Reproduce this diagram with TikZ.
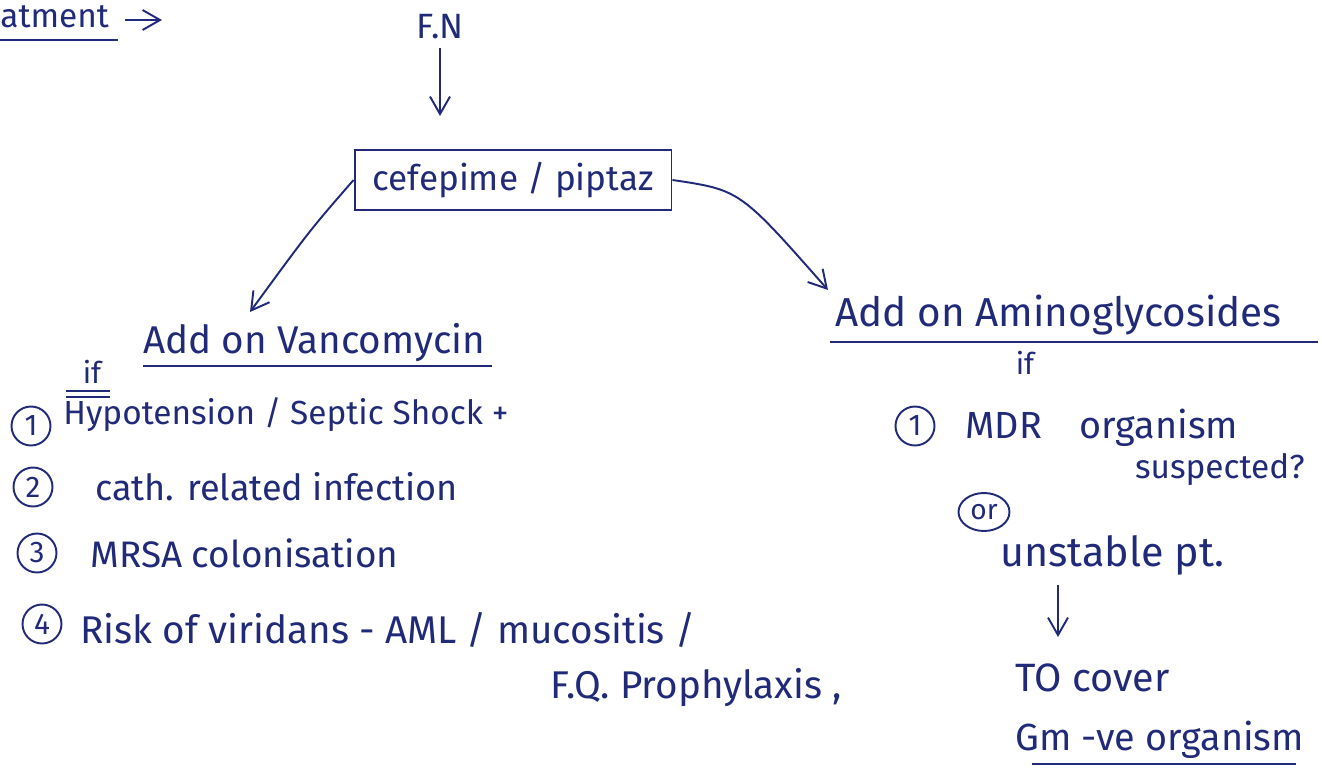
\documentclass[tikz,border=0pt]{standalone}
\usepackage{fontspec}
\setmainfont{Fira Sans}
\usetikzlibrary{arrows.meta,shapes.geometric}
\definecolor{ink}{RGB}{32,42,120}
\newcommand{\fs}[1]{\fontsize{#1}{#1}\selectfont}
\begin{document}
\begin{tikzpicture}[x=0.02cm,y=-0.02cm,
  ink/.style={draw=ink,line width=1.1pt},
  txt/.style={text=ink,inner sep=0pt,font=\fs{18}},
  conn/.style={ink,-{Straight Barb[length=3.5mm,width=4mm]}},
  num/.style={draw=ink,line width=1.1pt,circle,text=ink,inner sep=0pt,minimum size=0.78cm,font=\fs{17}}]
\useasboundingbox (0,0) rectangle (1322,771);
% top left
\node[txt,anchor=west,font=\fs{19}] (treat) at (0,17) {atment};
\coordinate (tu1) at (0,40); \coordinate (tu2) at (118,40);
\draw[ink] (tu1) -- (tu2);
\coordinate (ta1) at (125,20); \coordinate (ta2) at (162,20);
\draw[conn] (ta1) -- (ta2);
% F.N
\node[txt,font=\fs{20}] (fn) at (440,27) {F.N};
\node[draw=ink,line width=1.1pt,text=ink,font=\fs{20},minimum width=6.34cm,minimum height=1.2cm] (box) at (513,180) {cefepime / piptaz};
\coordinate (fnend) at (440,116);
\draw[conn] (fn.south) ++(0,8) -- (fnend);
% left branch
\node[txt,anchor=west,font=\fs{22}] (vanc) at (143,343) {Add on Vancomycin};
\coordinate (vu1) at (143,366); \coordinate (vu2) at (492,366);
\draw[ink] (vu1) -- (vu2);
\coordinate (vend) at (250,312);
\draw[conn] (box.west) .. controls (310,230) .. (vend);
\node[txt,font=\fs{17}] (if1) at (92,372) {if};
\draw[ink] (66,391) -- (110,391) (66,397) -- (110,397);
\node[num] (n1) at (31,426) {1};
\node[txt,anchor=west,font=\fs{19}] (l1) at (63,415) {Hypotension / Septic Shock +};
\node[num] (n2) at (33,487) {2};
\node[txt,anchor=west,font=\fs{20.5}] (l2) at (95,487) {cath. related infection};
\node[num] (n3) at (37,553) {3};
\node[txt,anchor=west,font=\fs{21}] (l3) at (90,553) {MRSA colonisation};
\node[num] (n4) at (42,624) {4};
\node[txt,anchor=west,font=\fs{22}] (l4) at (80,630) {Risk of viridans - AML / mucositis /};
\node[txt,anchor=west,font=\fs{22}] (l5) at (550,688) {F.Q. Prophylaxis ,};
% right branch
\node[txt,anchor=west,font=\fs{23}] (amino) at (835,315) {Add on Aminoglycosides};
\coordinate (au1) at (830,342); \coordinate (au2) at (1318,342);
\draw[ink] (au1) -- (au2);
\coordinate (aend) at (828,290);
\draw[conn] (box.east) .. controls (740,190) .. (aend);
\node[txt,font=\fs{17}] (if2) at (1025,363) {if};
\node[num] (m1) at (915,426) {1};
\node[txt,anchor=west,font=\fs{21.5}] (r1) at (965,428) {MDR\quad organism};
\node[txt,anchor=east,font=\fs{19}] (r2) at (1305,470) {suspected?};
\node[num,ellipse,minimum width=1.02cm,minimum height=0.76cm,font=\fs{16}] (or) at (984,512) {or};
\node[txt,anchor=west,font=\fs{23.5}] (r3) at (1000,555) {unstable pt.};
\coordinate (ra1) at (1058,585); \coordinate (ra2) at (1058,637);
\draw[conn] (ra1) -- (ra2);
\node[txt,anchor=west,font=\fs{22.5}] (r4) at (1015,678) {TO cover};
\node[txt,anchor=west,font=\fs{21.5}] (r5) at (1015,740) {Gm -ve organism};
\coordinate (gu1) at (1032,764); \coordinate (gu2) at (1296,764);
\draw[ink] (gu1) -- (gu2);
\end{tikzpicture}
\end{document}
